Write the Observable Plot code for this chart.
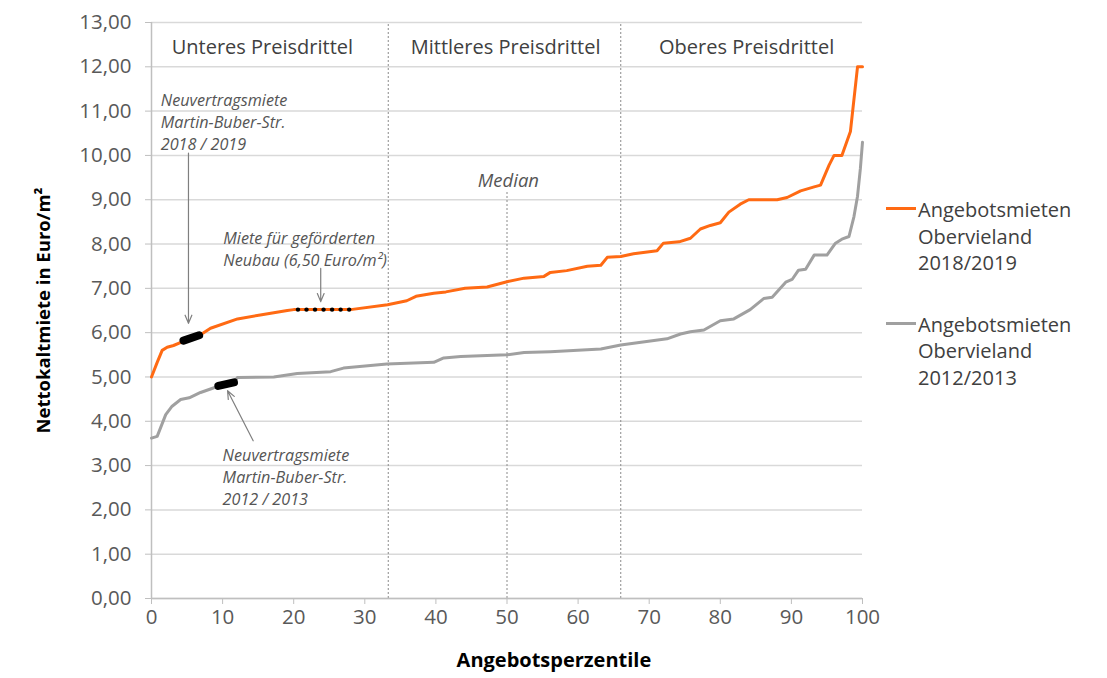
<!DOCTYPE html>
<html><head><meta charset="utf-8">
<script src="https://cdn.jsdelivr.net/npm/d3@7"></script>
<script src="https://cdn.jsdelivr.net/npm/@observablehq/plot@0.6"></script>
<style>
body{margin:0;background:#fff;font-family:"Open Sans",sans-serif;}
#wrap{position:relative;width:1107px;height:678px;overflow:hidden;}
#legend{position:absolute;left:886px;top:197px;font-size:20px;color:#404040;line-height:26.5px;}
.item{display:flex;align-items:flex-start;margin-bottom:35px}
.sw{width:30px;height:3px;margin-top:10px;margin-right:2px;flex:none}
</style></head><body><div id="wrap"><div id="chart"></div><div id="legend"></div></div>
<script>
// ---- data ----
const percentile2018 = [0,0.8,1.5,2.2,3.1,4.3,6.9,8.3,12.1,15.3,19.1,20,28,33.2,35.9,37.2,39.7,41.4,44.1,47.2,50,52.4,55.2,56.1,58.4,61.3,63.2,64.1,66,67.8,71.1,72,74.2,75.8,77.2,78.6,80,81.2,82.8,84,88,89.4,91.3,93.2,94.1,95.3,96,97.1,98.3,99.3,100];
const rent2018 = [5.0,5.33,5.6,5.67,5.71,5.79,5.95,6.1,6.31,6.4,6.5,6.52,6.52,6.63,6.72,6.82,6.89,6.92,7.0,7.03,7.15,7.23,7.27,7.36,7.4,7.5,7.52,7.7,7.72,7.78,7.85,8.02,8.05,8.13,8.34,8.42,8.48,8.72,8.9,9.0,9.0,9.05,9.2,9.29,9.33,9.78,10.0,10.0,10.54,12.0,12.0];
const percentile2012 = [0,0.8,2.0,2.9,4.1,5.3,6.9,8.5,9.2,11.8,12.1,17.2,20.5,25.2,27,33.1,39.7,41.1,43.5,50,52.4,56.1,63.2,66,72.5,74.4,75.8,77.7,80,81.9,84.2,86.1,87.3,89.2,90.1,91,92,93.2,95,96.2,97.1,98.1,98.8,99.3,99.7,100];
const rent2012 = [3.62,3.66,4.15,4.34,4.49,4.53,4.65,4.74,4.78,4.92,4.99,5.0,5.08,5.12,5.2,5.29,5.33,5.43,5.46,5.5,5.55,5.57,5.63,5.72,5.86,5.97,6.02,6.06,6.27,6.31,6.52,6.77,6.8,7.14,7.2,7.41,7.43,7.75,7.75,8.02,8.11,8.17,8.62,9.08,9.7,10.3];
const seriesNames = ["Angebotsmieten\nObervieland\n2018/2019","Angebotsmieten\nObervieland\n2012/2013"];
const seriesColors = ["#ff6a13","#a0a0a0"];
const xTicks = [0,10,20,30,40,50,60,70,80,90,100];
const yTicks = [0,1,2,3,4,5,6,7,8,9,10,11,12,13];
const xLabel = "Angebotsperzentile";
const yLabel = "Nettokaltmiete in Euro/m²";
// thirds and median
const dividerX = [33.3, 50, 66];
const dividerTop = [13, 9.18, 13];
const sectionNames = ["Unteres Preisdrittel","Mittleres Preisdrittel","Oberes Preisdrittel"];
const sectionX = [15.6, 49.8, 83.7];
const sectionY = 12.43;
// highlighted values
const marker2018X = [4.5, 6.7], marker2018Y = [5.82, 5.94];
const marker2012X = [9.4, 11.6], marker2012Y = [4.8, 4.88];
const neubauX = [20.6, 21.8, 23.0, 24.2, 25.4, 26.6, 27.8], neubauY = 6.52;
// annotations (left-aligned)
const noteTexts = ["Neuvertragsmiete\nMartin-Buber-Str.\n2018 / 2019","Miete für geförderten\nNeubau (6,50 Euro/m²)","Neuvertragsmiete\nMartin-Buber-Str.\n2012 / 2013"];
const noteX = [1.3, 10.1, 10.0];
const noteY = [10.77, 7.91, 2.77];
const medianText = "Median", medianX = 50.2, medianY = 9.41;
const arrowX1 = [5.2, 23.8, 14.3], arrowY1 = [10.05, 7.45, 3.56];
const arrowX2 = [5.2, 23.8, 10.7], arrowY2 = [6.21, 6.7, 4.69];

// ---- build ----
const s2018 = percentile2018.map((x,i)=>({x, y:rent2018[i]}));
const s2012 = percentile2012.map((x,i)=>({x, y:rent2012[i]}));
const dividers = dividerX.map((x,i)=>({x, top:dividerTop[i]}));
const sections = sectionNames.map((t,i)=>({t, x:sectionX[i], y:sectionY}));
const notes = noteTexts.map((t,i)=>({t, x:noteX[i], y:noteY[i]}));
const arrows = arrowX1.map((x1,i)=>({x1, y1:arrowY1[i], x2:arrowX2[i], y2:arrowY2[i]}));
const fmt = d => d3.format(".2f")(d).replace(".", ",");

const chart = Plot.plot({
  width:1107, height:678,
  marginLeft:151, marginRight:245, marginTop:22, marginBottom:80,
  style:{fontFamily:"'Open Sans', sans-serif", fontSize:"20.5px", color:"#595959", background:"white", overflow:"visible"},
  x:{domain:[0,100]}, y:{domain:[0,13]},
  marks:[
    Plot.gridY(yTicks, {stroke:"#d9d9d9", strokeOpacity:1, strokeWidth:1.5}),
    Plot.ruleX(dividers, {x:"x", y1:0, y2:"top", stroke:"#8a8a8a", strokeWidth:1, strokeDasharray:"2,2"}),
    Plot.ruleY([0], {stroke:"#bfbfbf", strokeWidth:1.5}),
    Plot.ruleX([0], {stroke:"#bfbfbf", strokeWidth:1.5}),
    Plot.axisY({ticks:yTicks, tickFormat:fmt, tickSize:6, tickPadding:14, label:null, stroke:"#bfbfbf", fill:"#595959"}),
    Plot.axisX({ticks:xTicks, tickSize:6, tickPadding:5, label:null, stroke:"#bfbfbf", fill:"#595959"}),
    Plot.text([yLabel], {frameAnchor:"left", textAnchor:"middle", dx:-107, rotate:-90, fontWeight:"bold", fontSize:18.5, fill:"#000"}),
    Plot.text([{t:xLabel, x:56.6}], {x:"x", text:"t", frameAnchor:"bottom", dy:68, fontWeight:"bold", fontSize:20, fill:"#000"}),
    Plot.text(sections, {x:"x", y:"y", text:"t", fontSize:20, fill:"#404040"}),
    Plot.line(s2012, {x:"x", y:"y", stroke:seriesColors[1], strokeWidth:3}),
    Plot.line(s2018, {x:"x", y:"y", stroke:seriesColors[0], strokeWidth:3}),
    Plot.line(marker2018X.map((x,i)=>({x, y:marker2018Y[i]})), {x:"x", y:"y", stroke:"#000", strokeWidth:8, strokeLinecap:"round"}),
    Plot.line(marker2012X.map((x,i)=>({x, y:marker2012Y[i]})), {x:"x", y:"y", stroke:"#000", strokeWidth:8, strokeLinecap:"round"}),
    Plot.dot(neubauX, {x:d=>d, y:neubauY, r:2.2, fill:"#000", stroke:null}),
    Plot.arrow(arrows, {x1:"x1", y1:"y1", x2:"x2", y2:"y2", stroke:"#7f7f7f", strokeWidth:1.2, headLength:11, headAngle:45}),
    Plot.text(notes, {x:"x", y:"y", text:"t", textAnchor:"start", fontStyle:"italic", fontSize:16.2, lineHeight:1.36, fill:"#555"}),
    Plot.text([medianText], {x:medianX, y:medianY, fontStyle:"italic", fontSize:18.5, fill:"#555"})
  ]
});
document.getElementById("chart").appendChild(chart);

const legend = document.getElementById("legend");
seriesNames.forEach((n,i)=>{
  const it = document.createElement("div"); it.className="item";
  const sw = document.createElement("div"); sw.className="sw"; sw.style.background=seriesColors[i];
  const tx = document.createElement("div"); tx.innerHTML = n.split("\n").join("<br>");
  it.appendChild(sw); it.appendChild(tx); legend.appendChild(it);
});
</script></body></html>
